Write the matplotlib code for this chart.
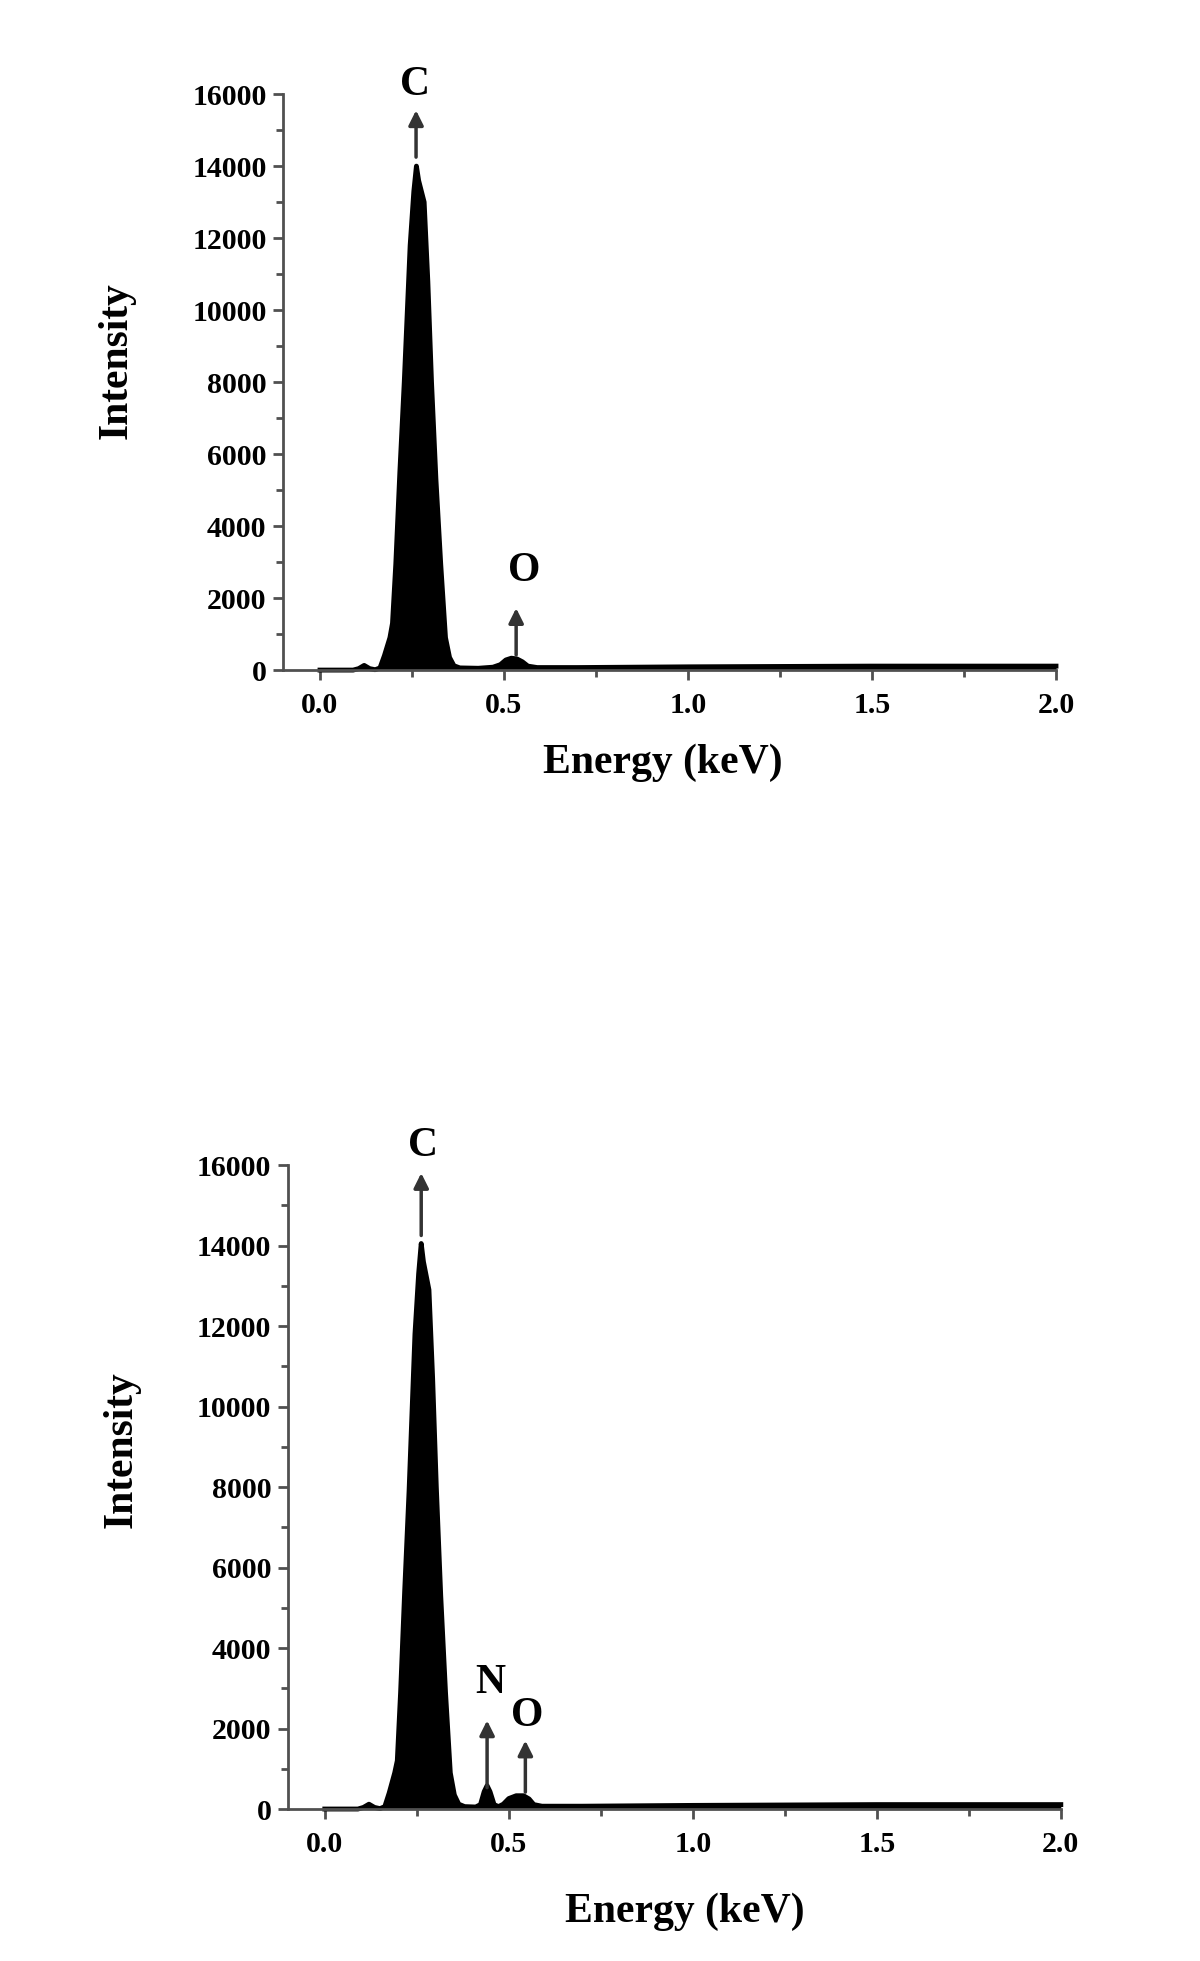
import matplotlib
matplotlib.use('Agg')
import matplotlib.pyplot as plt
from matplotlib.ticker import MultipleLocator

# EDS spectra (energy in keV, counts)
energy_top = [0.0, 0.09, 0.105, 0.12, 0.135, 0.15, 0.163, 0.175, 0.19, 0.197, 0.206, 0.217,
              0.229, 0.245, 0.255, 0.262, 0.268, 0.283, 0.293, 0.303, 0.315, 0.328, 0.341,
              0.352, 0.364, 0.38, 0.43, 0.47, 0.49, 0.505, 0.52, 0.535, 0.55, 0.565, 0.59,
              0.7, 0.85, 1.0, 1.25, 1.5, 1.75, 2.0]
counts_top = [0, 0, 40, 130, 40, 10, 60, 400, 900, 1300, 2950, 5500,
              8000, 11800, 13300, 14000, 13600, 13000, 10800, 8000, 5300, 2950, 900,
              350, 120, 60, 50, 80, 150, 280, 330, 310, 230, 110, 70,
              70, 80, 90, 100, 110, 110, 110]

energy_bottom = [0.0, 0.09, 0.105, 0.12, 0.135, 0.15, 0.163, 0.175, 0.19, 0.197, 0.206, 0.217,
                 0.229, 0.245, 0.255, 0.262, 0.268, 0.283, 0.293, 0.303, 0.315, 0.328, 0.341,
                 0.352, 0.364, 0.38, 0.41, 0.423, 0.433, 0.441, 0.449, 0.46, 0.472, 0.485,
                 0.5, 0.52, 0.54, 0.555, 0.568, 0.59, 0.7, 0.85, 1.0, 1.25, 1.5, 1.75, 2.0]
counts_bottom = [0, 0, 40, 120, 40, 10, 60, 400, 900, 1200, 2900, 5400,
                 7900, 11800, 13300, 14050, 13600, 12900, 10700, 8000, 5300, 2900, 900,
                 350, 120, 60, 50, 110, 430, 580, 430, 110, 60, 120,
                 260, 330, 330, 250, 110, 70, 70, 80, 90, 100, 110, 110, 110]

# peak labels: element, arrow x, arrow base, arrow tip, label x, label y
labels_top = [("C", 0.261, 14250, 15550, 0.258, 16250),
              ("O", 0.533, 420, 1720, 0.554, 2750)]
labels_bottom = [("C", 0.262, 14250, 15800, 0.268, 16480),
                 ("N", 0.441, 530, 2200, 0.45, 3130),
                 ("O", 0.545, 420, 1700, 0.549, 2300)]

serif = ['Liberation Serif', 'DejaVu Serif']
spine_col = '#505050'

fig = plt.figure(figsize=(12, 19.61), dpi=100)


def draw_panel(rect, energy, counts, labels, xlab_pos, ylab_pos):
    ax = fig.add_axes(rect)
    ax.fill_between(energy, 0, counts, color='black', lw=0)
    ax.plot(energy, counts, color='black', lw=3.5, clip_on=False)
    ax.set_xlim(-0.1, 2.0)
    ax.set_ylim(0, 16000)
    for s in ['top', 'right']:
        ax.spines[s].set_visible(False)
    for s in ['left', 'bottom']:
        ax.spines[s].set_color(spine_col)
        ax.spines[s].set_linewidth(2)
    ax.xaxis.set_major_locator(MultipleLocator(0.5))
    ax.xaxis.set_minor_locator(MultipleLocator(0.25))
    ax.yaxis.set_major_locator(MultipleLocator(2000))
    ax.yaxis.set_minor_locator(MultipleLocator(1000))
    ax.tick_params(which='both', direction='out', color=spine_col, width=2)
    ax.tick_params(which='major', length=7)
    ax.tick_params(which='minor', length=5)
    ax.tick_params(axis='x', pad=9)
    ax.tick_params(axis='y', pad=5)
    ax.set_xticks([0.0, 0.5, 1.0, 1.5, 2.0])
    ax.set_xticklabels(['0.0', '0.5', '1.0', '1.5', '2.0'])
    for t in ax.get_xticklabels() + ax.get_yticklabels():
        t.set_fontfamily(serif)
        t.set_fontweight('bold')
        t.set_fontsize(21.5)
    for name, ax_x, y0, y1, tx, ty in labels:
        ax.annotate('', xy=(ax_x, y1), xytext=(ax_x, y0),
                    arrowprops=dict(arrowstyle='-|>', color='#333333', lw=2.5,
                                    mutation_scale=22, shrinkA=0, shrinkB=0))
        ax.text(tx, ty, name, ha='center', va='center', fontsize=30,
                fontweight='bold', family=serif)
    fig.text(xlab_pos[0], xlab_pos[1], 'Energy (keV)', ha='center', va='center',
             fontsize=30, fontweight='bold', family=serif)
    fig.text(ylab_pos[0], ylab_pos[1], 'Intensity', ha='center', va='center',
             rotation=90, fontsize=30, fontweight='bold', family=serif)
    return ax


draw_panel([0.236, 0.6583, 0.644, 0.2937], energy_top, counts_top, labels_top,
           (0.552, 0.611), (0.0975, 0.816))
draw_panel([0.24, 0.0775, 0.644, 0.3284], energy_bottom, counts_bottom, labels_bottom,
           (0.571, 0.025), (0.101, 0.2606))

fig.savefig('out.png', dpi=100, facecolor='white')
